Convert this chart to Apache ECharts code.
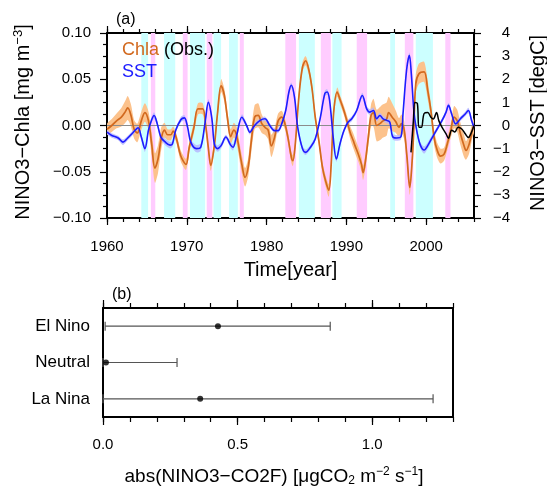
<!DOCTYPE html>
<html><head><meta charset="utf-8">
<script src="https://cdn.jsdelivr.net/npm/echarts@6/dist/echarts.min.js"></script>
<style>html,body{margin:0;padding:0;background:#fff}#c{width:547px;height:486px}</style>
</head><body><div id="c"></div>
<script>
// [year, NINO3-Chla (mg m-3), half-spread]
const chlaObs = [[1960.0,-0.004,0.006],[1960.6,0.000,0.007],[1961.2,0.005,0.008],[1961.8,0.009,0.010],[1962.3,0.015,0.012],[1962.6,0.019,0.013],[1963.0,0.011,0.012],[1963.4,-0.004,0.010],[1963.8,-0.008,0.010],[1964.3,0.005,0.010],[1964.75,0.014,0.010],[1965.2,0.005,0.010],[1965.6,-0.020,0.013],[1966.0,-0.046,0.016],[1966.4,-0.036,0.015],[1966.8,-0.014,0.012],[1967.2,-0.005,0.008],[1967.6,-0.010,0.006],[1968.0,-0.010,0.006],[1968.3,-0.006,0.005],[1968.7,-0.014,0.005],[1969.25,-0.033,0.006],[1969.9,-0.042,0.006],[1970.3,-0.024,0.006],[1970.9,-0.002,0.006],[1971.4,0.018,0.006],[1972.0,0.018,0.006],[1972.4,-0.002,0.006],[1972.7,-0.024,0.006],[1973.0,-0.043,0.006],[1973.45,-0.022,0.006],[1973.85,0.013,0.006],[1974.3,0.043,0.007],[1974.7,0.033,0.007],[1975.1,0.008,0.007],[1975.5,-0.012,0.008],[1975.9,-0.005,0.008],[1976.25,-0.011,0.009],[1976.9,-0.042,0.010],[1977.3,-0.056,0.010],[1977.7,-0.045,0.010],[1978.1,-0.016,0.012],[1978.5,0.009,0.013],[1978.95,0.011,0.013],[1979.4,0.002,0.010],[1979.8,-0.002,0.008],[1980.2,-0.005,0.010],[1980.6,-0.022,0.012],[1981.0,-0.013,0.010],[1981.45,0.005,0.008],[1981.9,0.009,0.007],[1982.3,0.002,0.006],[1982.7,-0.014,0.006],[1983.1,-0.034,0.006],[1983.3,-0.038,0.006],[1983.6,-0.020,0.005],[1984.05,0.031,0.005],[1984.5,0.063,0.005],[1984.9,0.070,0.005],[1985.3,0.060,0.005],[1985.7,0.040,0.005],[1986.1,0.009,0.005],[1986.55,-0.016,0.005],[1987.0,-0.045,0.006],[1987.4,-0.060,0.006],[1987.8,-0.070,0.007],[1988.1,-0.042,0.006],[1988.4,0.013,0.005],[1988.85,0.036,0.005],[1989.25,0.027,0.005],[1989.7,0.016,0.005],[1990.1,0.004,0.006],[1990.5,-0.008,0.007],[1990.85,-0.016,0.008],[1991.1,-0.022,0.008],[1991.5,-0.031,0.008],[1991.9,-0.042,0.008],[1992.1,-0.051,0.008],[1992.4,-0.038,0.008],[1992.75,-0.013,0.009],[1993.1,0.011,0.012],[1993.4,0.014,0.015],[1993.8,0.000,0.017],[1994.2,0.002,0.018],[1994.6,0.005,0.018],[1995.05,0.007,0.018],[1995.3,0.014,0.017],[1995.75,0.009,0.015],[1996.2,0.004,0.012],[1996.6,-0.002,0.010],[1996.9,0.002,0.010],[1997.25,-0.005,0.010],[1997.6,-0.034,0.008],[1997.95,-0.067,0.008],[1998.25,-0.038,0.008],[1998.45,-0.005,0.010],[1998.7,0.045,0.010],[1999.1,0.056,0.011],[1999.75,0.058,0.011],[2000.2,0.038,0.010],[2000.6,0.016,0.008],[2001.0,-0.013,0.008],[2001.4,-0.027,0.008],[2001.8,-0.033,0.008],[2002.25,-0.031,0.007],[2002.65,-0.020,0.007],[2003.1,-0.005,0.008],[2003.5,0.009,0.012],[2003.9,0.005,0.012],[2004.3,-0.009,0.012],[2004.75,-0.022,0.012],[2005.0,-0.027,0.010],[2005.4,-0.020,0.010],[2005.8,-0.005,0.008],[2006.0,0.000,0.008]];

// [year, NINO3-SST (degC), half-spread]
const sstObs = [[1960.0,-0.29,0.10],[1960.6,-0.43,0.10],[1961.4,-0.54,0.10],[1962.0,-0.72,0.12],[1962.6,-0.54,0.10],[1963.3,-0.29,0.10],[1963.9,-0.10,0.10],[1964.3,-0.50,0.12],[1964.75,-1.00,0.14],[1965.2,-0.20,0.12],[1965.6,0.25,0.12],[1965.9,0.43,0.14],[1966.3,0.07,0.12],[1966.75,-0.50,0.12],[1967.25,-0.70,0.14],[1967.9,-0.85,0.14],[1968.2,-0.80,0.12],[1968.6,-0.22,0.10],[1969.25,0.25,0.12],[1969.7,0.33,0.12],[1970.1,-0.07,0.10],[1970.5,-0.72,0.12],[1971.2,-1.00,0.16],[1971.75,-0.94,0.16],[1972.3,0.14,0.12],[1972.7,1.00,0.14],[1973.15,0.29,0.12],[1973.45,-0.80,0.12],[1973.85,-1.00,0.14],[1974.3,-0.87,0.12],[1974.9,-0.50,0.10],[1975.5,-0.85,0.12],[1975.8,-0.94,0.14],[1976.25,-0.43,0.12],[1976.9,0.36,0.12],[1977.5,0.00,0.10],[1977.9,-0.29,0.10],[1978.5,0.00,0.10],[1979.2,0.22,0.10],[1979.8,0.29,0.10],[1980.4,0.00,0.10],[1981.0,-0.22,0.10],[1981.45,-0.22,0.10],[1981.9,0.07,0.10],[1982.4,0.65,0.10],[1982.8,1.45,0.12],[1983.1,1.74,0.12],[1983.5,1.23,0.10],[1983.9,-0.07,0.10],[1984.5,-1.00,0.12],[1984.9,-1.16,0.12],[1985.5,-0.94,0.10],[1986.1,-0.58,0.10],[1986.75,0.36,0.10],[1987.3,1.38,0.12],[1987.6,1.45,0.12],[1987.9,1.09,0.10],[1988.35,-0.50,0.10],[1988.75,-1.45,0.12],[1989.2,-0.80,0.10],[1989.7,-0.22,0.10],[1990.2,0.14,0.10],[1990.7,0.30,0.10],[1991.3,0.65,0.10],[1992.0,1.30,0.12],[1992.55,0.72,0.12],[1992.95,0.58,0.12],[1993.4,0.65,0.12],[1993.8,0.29,0.12],[1994.2,0.43,0.12],[1994.6,0.29,0.12],[1995.05,0.22,0.12],[1995.45,0.14,0.12],[1995.8,-0.48,0.12],[1996.3,-0.54,0.12],[1996.85,-0.48,0.12],[1997.1,0.50,0.10],[1997.55,2.40,0.10],[1997.9,3.04,0.12],[1998.15,2.20,0.10],[1998.5,0.50,0.10],[1998.9,-0.36,0.12],[1999.3,-0.87,0.14],[1999.75,-1.06,0.16],[2000.2,-0.87,0.14],[2000.8,-0.50,0.12],[2001.4,-0.14,0.10],[2002.0,0.22,0.10],[2002.5,0.58,0.10],[2002.8,0.87,0.10],[2003.2,0.50,0.10],[2003.7,0.07,0.10],[2004.3,0.29,0.10],[2004.9,0.50,0.10],[2005.3,0.65,0.12],[2005.7,0.22,0.12],[2006.0,-0.07,0.12]];

// [year, NINO3-Chla (black line)]
const chlaBlack = [[1998.1,-0.029],[1998.4,0.005],[1998.6,0.025],[1998.9,0.024],[1999.1,-0.002],[1999.4,-0.002],[1999.75,0.013],[2000.2,0.014],[2000.6,0.009],[2000.9,0.007],[2001.3,0.014],[2001.6,0.005],[2002.0,-0.002],[2002.5,-0.009],[2002.8,-0.014],[2003.2,-0.005],[2003.6,-0.007],[2004.0,-0.002],[2004.5,-0.004],[2004.9,-0.009],[2005.3,-0.013],[2005.6,-0.009],[2006.0,0.000]];

const laNinaPeriods = [[1964.3,1965.15],[1967.15,1968.55],[1970.4,1972.3],[1973.35,1974.3],[1975.3,1976.4],[1984.05,1986.05],[1988.25,1989.4],[1995.5,1996.1],[1998.7,2000.85]];
const elNinoPeriods = [[1965.5,1966.05],[1969.5,1970.1],[1972.5,1973.2],[1976.65,1977.15],[1982.35,1983.7],[1986.8,1988.05],[1991.3,1992.6],[1997.33,1998.4],[2002.4,2003.05]];

const yearTickLabels = [1960, 1970, 1980, 1990, 2000];

const co2Categories = ['El Nino', 'Neutral', 'La Nina'];
const co2Mean = [0.427, 0.011, 0.361];
const co2Low  = [0.008, 0.000, 0.000];
const co2High = [0.844, 0.275, 1.226];
const co2TickLabels = [0.0, 0.5, 1.0];

const FONT = 'Liberation Sans, Arial, Helvetica, sans-serif';
const ORANGE = '#d2691e', BLUE = '#1c1cff';
const minus = s => s.replace('-', '\u2212');

const chart = echarts.init(document.getElementById('c'), null, {renderer: 'canvas'});

const frameLine = {show: true, onZero: false, lineStyle: {color: '#000', width: 2}};
const lbl = {color: '#000', fontSize: 15, fontFamily: FONT};

const periodAreas = [];
laNinaPeriods.forEach(p => periodAreas.push([{xAxis: p[0], itemStyle: {color: '#ccffff'}}, {xAxis: p[1]}]));
elNinoPeriods.forEach(p => periodAreas.push([{xAxis: p[0], itemStyle: {color: '#ffccff'}}, {xAxis: p[1]}]));

const xTop = (pos, overlay) => ({
  type: 'value', gridIndex: 0, position: pos, min: 1960, max: 2006,
  interval: overlay ? 10 : 2,
  axisLine: overlay ? {show: false, onZero: false} : frameLine,
  axisTick: overlay ? {show: true, inside: false, length: 7, lineStyle: {color: '#000', width: 1.2}, customValues: yearTickLabels}
                    : {show: true, inside: false, length: 4, lineStyle: {color: '#000', width: 1.2}},
  axisLabel: (pos === 'bottom' && !overlay) ? Object.assign({}, lbl, {margin: 21, formatter: v => yearTickLabels.includes(v) ? String(v) : ''}) : {show: false},
  splitLine: {show: false}, minorTick: {show: false}
});
const xBot = (pos, overlay) => ({
  type: 'value', gridIndex: 1, position: pos, min: 0, max: 1.3,
  interval: overlay ? 0.5 : 0.1,
  axisLine: overlay ? {show: false, onZero: false} : frameLine,
  axisTick: overlay ? {show: true, inside: false, length: 8, lineStyle: {color: '#000', width: 1.2}, customValues: co2TickLabels}
                    : {show: true, inside: false, length: 5, lineStyle: {color: '#000', width: 1.2}},
  axisLabel: (pos === 'bottom' && !overlay) ? Object.assign({}, lbl, {margin: 20, formatter: v => co2TickLabels.some(t => Math.abs(t - v) < 1e-6) ? v.toFixed(1) : ''}) : {show: false},
  splitLine: {show: false}, minorTick: {show: false}
});

// shaded spread band drawn as one polygon through the axes' scales
const bandSeries = (obs, yIdx, color, opacity) => ({
  type: 'custom', xAxisIndex: 0, yAxisIndex: yIdx, clip: true, silent: true, z: 2,
  data: obs.map(d => [d[0], d[1]]), encode: {x: 0, y: 1},
  renderItem: (params, api) => {
    if (params.dataIndex !== 0) return null;
    const up = obs.map(d => api.coord([d[0], d[1] + d[2]]));
    const lo = obs.map(d => api.coord([d[0], d[1] - d[2]])).reverse();
    return {type: 'polygon', shape: {points: up.concat(lo), smooth: 0.25},
            style: {fill: color, opacity: opacity, stroke: null}};
  }
});

const option = {
  animation: false,
  backgroundColor: '#fff',
  textStyle: {fontFamily: FONT},
  grid: [
    {left: 107, top: 33, width: 367, height: 185, containLabel: false},
    {left: 103, top: 308, width: 350, height: 109, containLabel: false}
  ],
  xAxis: [xTop('bottom', false), xTop('top', false), xTop('bottom', true), xTop('top', true),
          xBot('bottom', false), xBot('top', false), xBot('bottom', true), xBot('top', true)],
  yAxis: [
    {type: 'value', gridIndex: 0, position: 'left', min: -0.1, max: 0.1, interval: 0.05,
     axisLine: frameLine,
     axisTick: {show: true, inside: false, length: 7, lineStyle: {color: '#000', width: 1.2}},
     minorTick: {show: true, splitNumber: 4, length: 4, lineStyle: {color: '#000', width: 1.2}},
     axisLabel: Object.assign({}, lbl, {margin: 16, formatter: v => minus(v.toFixed(2))}),
     splitLine: {show: false}, minorSplitLine: {show: false}},
    {type: 'value', gridIndex: 0, position: 'right', min: -4, max: 4, interval: 1,
     axisLine: frameLine,
     axisTick: {show: true, inside: false, length: 7, lineStyle: {color: '#000', width: 1.2}},
     minorTick: {show: true, splitNumber: 2, length: 4, lineStyle: {color: '#000', width: 1.2}},
     axisLabel: Object.assign({}, lbl, {margin: 36, align: 'right', formatter: v => minus(String(Math.round(v)))}),
     splitLine: {show: false}, minorSplitLine: {show: false}},
    {type: 'category', gridIndex: 1, position: 'left', data: co2Categories, inverse: true,
     axisLine: frameLine, axisTick: {show: false},
     axisLabel: {color: '#000', fontSize: 17, fontFamily: FONT, margin: 13},
     splitLine: {show: false}},
    {type: 'category', gridIndex: 1, position: 'right', data: co2Categories, inverse: true,
     axisLine: frameLine, axisTick: {show: false}, axisLabel: {show: false}, splitLine: {show: false}}
  ],
  series: [
    bandSeries(chlaObs, 0, '#fcc28c', 1),
    bandSeries(sstObs, 1, '#b4b4ff', 0.8),
    {type: 'line', name: 'zero', xAxisIndex: 0, yAxisIndex: 0,
     data: [[1960, 0], [2006, 0]], showSymbol: false, symbol: 'none',
     lineStyle: {color: '#8c8c8c', width: 1}, silent: true, z: 2,
     markArea: {silent: true, z: 1, data: periodAreas}},
    {type: 'line', name: 'Chla', xAxisIndex: 0, yAxisIndex: 0,
     data: chlaObs.map(d => [d[0], d[1]]), smooth: 0.35, showSymbol: false, symbol: 'none',
     lineStyle: {color: ORANGE, width: 1.7}, z: 3},
    {type: 'line', name: 'SST', xAxisIndex: 0, yAxisIndex: 1,
     data: sstObs.map(d => [d[0], d[1]]), smooth: 0.35, showSymbol: false, symbol: 'none',
     lineStyle: {color: BLUE, width: 1.6}, z: 4},
    {type: 'line', name: 'ChlaBlack', xAxisIndex: 0, yAxisIndex: 0,
     data: chlaBlack, smooth: 0.35, showSymbol: false, symbol: 'none',
     lineStyle: {color: '#000', width: 1.5}, z: 5},
    {type: 'custom', name: 'range', xAxisIndex: 4, yAxisIndex: 2,
     data: co2Categories.map((c, i) => [co2Low[i], co2High[i], c]),
     encode: {x: [0, 1], y: 2},
     renderItem: (params, api) => {
       const cat = api.value(2);
       const a = api.coord([api.value(0), cat]);
       const b = api.coord([api.value(1), cat]);
       const h = 4.5;
       const st = {stroke: '#555', lineWidth: 1.2};
       return {type: 'group', children: [
         {type: 'line', shape: {x1: a[0], y1: a[1], x2: b[0], y2: b[1]}, style: st},
         {type: 'line', shape: {x1: a[0], y1: a[1] - h, x2: a[0], y2: a[1] + h}, style: st},
         {type: 'line', shape: {x1: b[0], y1: b[1] - h, x2: b[0], y2: b[1] + h}, style: st}
       ]};
     }, z: 3},
    {type: 'scatter', name: 'mean', xAxisIndex: 4, yAxisIndex: 2,
     data: co2Categories.map((c, i) => [co2Mean[i], c]),
     symbol: 'circle', symbolSize: 6, itemStyle: {color: '#000'}, z: 4}
  ],
  graphic: [
    {type: 'text', x: 116, y: 20, style: {text: '(a)', fontSize: 16, fontFamily: FONT, fill: '#000', align: 'left', verticalAlign: 'middle'}},
    {type: 'text', x: 112, y: 295, style: {text: '(b)', fontSize: 16, fontFamily: FONT, fill: '#000', align: 'left', verticalAlign: 'middle'}},
    {type: 'text', x: 122, y: 50, z: 10, style: {text: '{o|Chla} {k|(Obs.)}', fontSize: 18, fontFamily: FONT, fill: '#000', align: 'left', verticalAlign: 'middle',
      rich: {o: {fill: ORANGE, fontSize: 18, fontFamily: FONT}, k: {fill: '#000', fontSize: 18, fontFamily: FONT}}}},
    {type: 'text', x: 122, y: 72, z: 10, style: {text: 'SST', fontSize: 18, fontFamily: FONT, fill: BLUE, align: 'left', verticalAlign: 'middle'}},
    {type: 'text', x: 290.5, y: 270, style: {text: 'Time[year]', fontSize: 20, fontFamily: FONT, fill: '#000', align: 'center', verticalAlign: 'middle'}},
    {type: 'text', x: 23, y: 122, rotation: Math.PI / 2, style: {text: 'NINO3\u2212Chla [mg m{sup|\u22123}]', fontSize: 20, fontFamily: FONT, fill: '#000', align: 'center', verticalAlign: 'middle',
      rich: {sup: {fontSize: 13, fontFamily: FONT, fill: '#000', padding: [0, 0, 10, 0]}}}},
    {type: 'text', x: 538, y: 123, rotation: Math.PI / 2, style: {text: 'NINO3\u2212SST [degC]', fontSize: 20, fontFamily: FONT, fill: '#000', align: 'center', verticalAlign: 'middle'}},
    {type: 'text', x: 274, y: 477, style: {text: 'abs(NINO3\u2212CO2F) [\u03bcgCO{sub|2} m{sup|\u22122} s{sup|\u22121}]', fontSize: 19, fontFamily: FONT, fill: '#000', align: 'center', verticalAlign: 'middle',
      rich: {sup: {fontSize: 12, fontFamily: FONT, fill: '#000', padding: [0, 0, 10, 0]}, sub: {fontSize: 12, fontFamily: FONT, fill: '#000', padding: [8, 0, 0, 0]}}}}
  ]
};
chart.setOption(option);
</script></body></html>
